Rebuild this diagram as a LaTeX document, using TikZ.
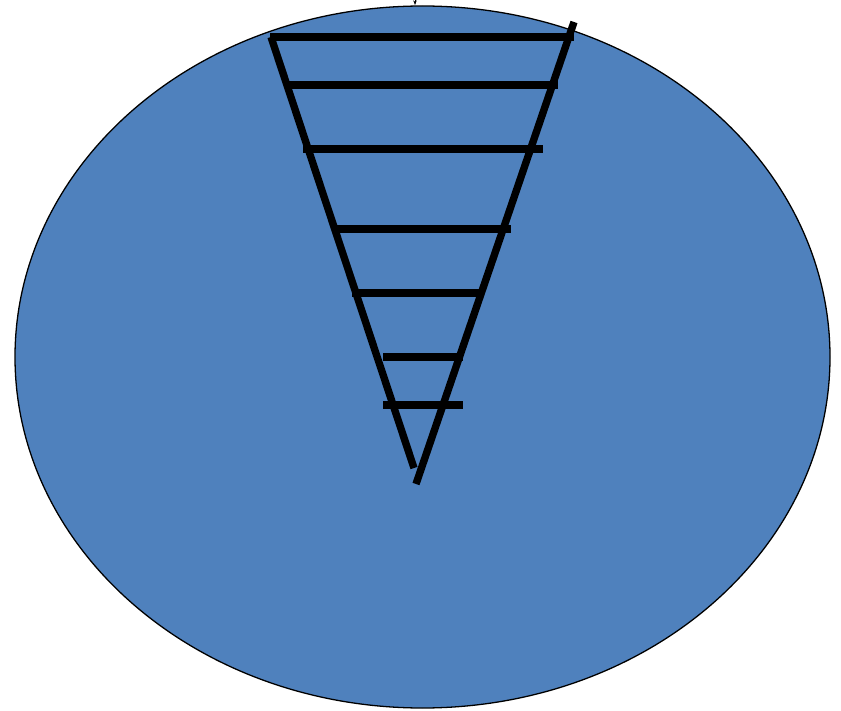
\documentclass[tikz,border=0pt]{standalone}
\usetikzlibrary{arrows.meta}

\definecolor{potblue}{RGB}{79,129,189}

\begin{document}
\begin{tikzpicture}[
    x=0.03cm, y=-0.03cm,
    rung/.style={line width=6.3pt, line cap=butt},
    side/.style={line width=6.3pt, line cap=butt}
]
\useasboundingbox (0,0) rectangle (841,711);
% the round pot
\draw[fill=potblue, line width=1.1pt] (422.5,357) ellipse [x radius=407.5, y radius=351];
\draw[-{Stealth[length=4pt,width=3pt]}, line width=0.5pt] (415,-10) -- (415,5);
% the cone
\coordinate (lt) at (271,37);
\coordinate (lb) at (414,468);
\coordinate (rt) at (574,22);
\coordinate (rb) at (416,484);
\draw[side] (lt) -- (lb);
\draw[side] (rt) -- (rb);
% the rungs
\foreach \y/\xa/\xb in {37/270/574, 85/285/558, 149/303/543, 229/335/511,
                        293/352/483, 357/383/463, 405/383/463}
    \draw[rung] (\xa,\y) -- (\xb,\y);
\end{tikzpicture}
\end{document}
